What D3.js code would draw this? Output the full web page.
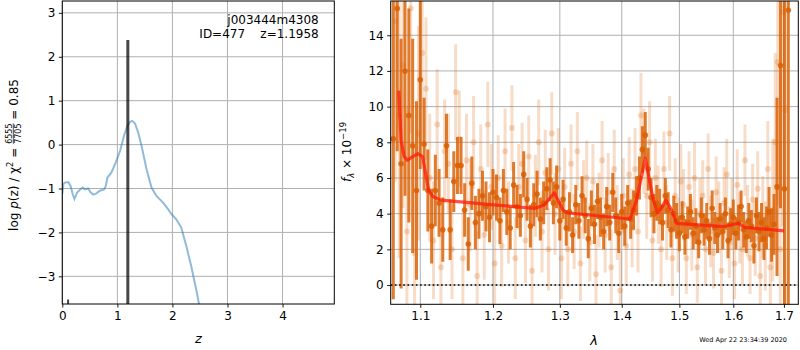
<!DOCTYPE html>
<html><head><meta charset="utf-8">
<script src="https://cdn.jsdelivr.net/npm/d3@7"></script>
<style>body{margin:0;background:#fff}svg{display:block}text{font-family:"DejaVu Sans",sans-serif;fill:#000}</style>
</head><body><svg id="c" width="800" height="350"></svg>
<script>
// ---------- left panel data ----------
const zGrid = [0,0.02,0.04,0.08,0.11,0.15,0.19,0.22,0.27,0.32,0.37,0.41,0.47,0.51,0.56,0.62,0.68,0.76,0.79,0.82,0.89,0.97,1.05,1.12,1.18,1.23,1.27,1.32,1.38,1.44,1.53,1.62,1.71,1.83,1.92,1.98,2.07,2.16,2.25,2.34,2.43,2.48,2.56];
const logPz = [-1.12,-0.9,-0.87,-0.86,-0.86,-0.94,-1.13,-1.24,-1.09,-1.03,-0.98,-1.02,-1.0,-1.08,-1.14,-1.11,-1.05,-1.02,-0.94,-0.75,-0.64,-0.41,-0.14,0.20,0.42,0.52,0.54,0.48,0.27,-0.03,-0.56,-0.98,-1.17,-1.32,-1.47,-1.58,-1.70,-1.89,-2.30,-2.76,-3.29,-3.61,-4.2];
const pzBarZ = [1.19, 0.105];
const pzBarTop = [2.38, -3.53];
const zTicks = [0,1,2,3,4];
const logTicks = [-3,-2,-1,0,1,2,3];
const objName = "j003444m4308";
const objInfo = "ID=477    z=1.1958";

// ---------- right panel data ----------
const lamTicks = [1.1,1.2,1.3,1.4,1.5,1.6,1.7];
const fluxTicks = [0,2,4,6,8,10,12,14];
const lamDark = [1.065,1.070,1.075,1.080,1.085,1.090,1.095,1.100,
 1.105,1.110,1.115,1.120,1.125,1.130,
 1.135,1.140,1.145,1.150,1.155,1.160,1.165,1.170,1.175,1.180,1.185,1.190,1.195,1.200,
 1.205,1.210,1.215,1.220,1.225,1.230,1.235,1.240,1.245,1.250,1.255,1.260,1.265,1.270,1.275,1.280,
 1.285,1.290,1.295,1.300,
 1.305,1.310,1.315,1.320,1.325,1.330,1.335,1.340,1.345,1.350,1.355,1.360,1.365,1.370,1.375,1.380,1.385,1.390,1.395,1.400,1.405,1.410,1.415,
 1.420,1.425,1.430,1.435,1.440,1.445,1.450,1.455,1.460,
 1.465,1.470,1.475,1.480,1.485,1.490,1.495,1.500,
 1.505,1.510,1.515,1.520,1.525,1.530,1.535,1.540,1.545,1.550,1.555,1.560,1.565,1.570,1.575,1.580,1.585,1.590,1.595,1.600,1.605,1.610,1.615,1.620,1.625,1.630,1.635,1.640,1.645,1.650,1.655,1.660,1.665,1.670,1.675,1.680,
 1.686,1.693,1.701,1.709];
const fluxDark = [8.2,15.5,6.8,12.0,9.5,7.8,5.3,11.5,
 7.9,5.3,3.3,5.3,4.6,3.1,
 7.8,3.1,5.8,6.7,6.7,4.2,2.3,5.7,3.5,4.0,5.0,4.4,3.8,5.2,
 4.9,3.6,5.3,4.1,3.2,5.6,4.4,3.9,6.2,4.8,3.3,4.5,5.1,3.7,4.6,5.4,
 5.9,4.6,5.5,3.6,
 4.8,3.2,4.1,2.8,4.5,3.6,5.0,3.9,2.6,4.3,3.4,4.7,3.8,3.0,4.4,3.5,5.2,3.9,2.9,4.1,3.3,4.6,3.7,
 4.2,5.0,6.0,7.6,8.4,6.5,4.9,4.0,4.6,
 4.4,3.5,5.0,4.2,3.1,4.0,3.6,2.9,
 3.8,2.7,3.5,4.1,2.9,3.3,2.4,3.9,3.1,3.6,2.6,4.3,3.2,2.8,3.7,3.0,4.0,2.5,3.4,3.8,2.9,3.5,4.4,3.1,2.7,3.6,3.3,2.2,3.9,3.0,3.5,2.6,3.2,4.1,2.8,3.4,
 5.5,12.3,5.4,15.4];
const errDark = [9,8,7,7,6,6,5,5,
 2.6,2.3,2.1,2.0,1.9,1.8,
 1.8,1.7,1.7,1.6,1.6,1.5,1.5,1.5,1.5,1.4,1.4,1.4,1.4,1.3,
 1.3,1.3,1.2,1.3,1.2,1.3,1.2,1.2,1.3,1.2,1.2,1.2,1.3,1.2,1.2,1.2,
 1.2,1.2,1.2,1.1,
 1.1,1.0,1.1,1.0,1.1,1.0,1.1,1.0,1.1,1.0,1.1,1.0,1.1,1.0,1.1,1.0,1.1,1.0,1.1,1.0,1.1,1.0,1.1,
 1.1,1.1,1.2,1.3,1.3,1.2,1.1,1.1,1.0,
 1.0,1.0,1.0,1.0,1.0,1.0,1.0,1.0,
 0.9,1.0,0.9,1.0,0.9,1.0,0.9,1.0,0.9,1.0,0.9,1.0,0.9,1.0,0.9,1.0,0.9,1.0,0.9,1.0,0.9,1.0,0.9,1.0,0.9,1.0,0.9,1.0,1.0,1.1,1.1,1.2,1.2,1.4,1.5,1.7,
 5,8,12,18];
const lamLight = [1.0675,1.0725,1.0775,1.0825,1.0875,1.0925,1.0975,1.1025,
 1.1075,1.1125,1.1175,1.1225,1.1275,1.1325,
 1.1375,1.1425,1.1475,1.1525,1.1575,1.1625,1.1675,1.1725,1.1775,1.1825,1.1875,1.1925,1.1975,1.2025,
 1.2075,1.2125,1.2175,1.2225,1.2275,1.2325,1.2375,1.2425,1.2475,1.2525,1.2575,1.2625,1.2675,1.2725,1.2775,1.2825,
 1.2875,1.2925,1.2975,1.3025,
 1.3075,1.3125,1.3175,1.3225,1.3275,1.3325,1.3375,1.3425,1.3475,1.3525,1.3575,1.3625,1.3675,1.3725,1.3775,1.3825,1.3875,1.3925,1.3975,1.4025,1.4075,1.4125,1.4175,
 1.4225,1.4275,1.4325,1.4375,1.4425,1.4475,1.4525,1.4575,1.4625,
 1.4675,1.4725,1.4775,1.4825,1.4875,1.4925,1.4975,1.5025,
 1.5075,1.5125,1.5175,1.5225,1.5275,1.5325,1.5375,1.5425,1.5475,1.5525,1.5575,1.5625,1.5675,1.5725,1.5775,1.5825,1.5875,1.5925,1.5975,1.6025,1.6075,1.6125,1.6175,1.6225,1.6275,1.6325,1.6375,1.6425,1.6475,1.6525,1.6575,1.6625,1.6675,1.6725,1.6775,1.6825,
 1.6875,1.6925,1.6975,1.7025];
const fluxLight = [14.8,9.5,12.3,3.0,15.5,1.8,8.5,13.0,
 11.0,6.0,2.5,9.0,1.0,7.5,
 6.8,2.0,10.8,8.2,1.5,7.0,4.5,8.0,0.5,6.5,2.8,9.0,5.5,1.2,
 6.0,2.2,7.5,3.5,8.8,1.5,5.5,6.8,2.5,7.2,0.8,5.0,8.0,3.0,6.3,2.0,
 8.5,4.0,6.5,1.5,
 5.5,2.0,6.8,3.0,7.5,1.2,4.8,6.0,2.4,5.8,0.6,4.2,7.0,2.8,5.2,1.0,6.5,3.5,-0.3,5.0,2.2,6.2,3.2,
 6.5,3.0,9.5,7.5,5.0,8.0,2.5,6.0,4.5,
 2.0,6.5,3.5,8.5,1.5,5.0,2.8,5.8,
 4.5,1.5,5.5,2.8,6.0,1.0,4.0,5.0,2.0,6.5,3.0,1.8,5.2,3.8,0.8,4.6,6.2,2.4,4.0,1.2,5.6,3.2,2.0,7.0,3.6,1.5,4.8,2.6,5.4,0.5,3.8,2.2,6.5,1.0,4.2,8.0,
 12.5,2.0,15.3,9.8];
const errLight = [9,8,8,7,7,6,6,5,
 4,3.6,3.3,3.1,3,2.9,
 2.8,2.8,2.7,2.7,2.7,2.6,2.6,2.6,2.5,2.5,2.5,2.4,2.4,2.4,
 2.4,2.3,2.4,2.3,2.4,2.3,2.4,2.3,2.4,2.3,2.4,2.3,2.4,2.3,2.4,2.3,
 2.3,2.3,2.3,2.3,
 2.2,2.1,2.2,2.1,2.2,2.1,2.2,2.1,2.2,2.1,2.2,2.1,2.2,2.1,2.2,2.1,2.2,2.1,2.2,2.1,2.2,2.1,2.2,
 2.3,2.3,2.4,2.4,2.4,2.3,2.3,2.2,2.2,
 2.1,2.1,2.1,2.1,2.1,2.1,2.1,2.1,
 2.0,2.0,2.0,2.0,2.0,2.0,2.0,2.0,2.0,2.0,2.0,2.0,2.0,2.0,2.0,2.0,2.0,2.0,2.0,2.0,2.0,2.0,2.0,2.0,2.0,2.0,2.0,2.1,2.1,2.2,2.3,2.5,2.7,3.0,4.0,5.0,
 8,10,12,14];
const modelLam = [1.072,1.075,1.079,1.083,1.090,1.097,1.103,1.107,1.111,1.117,1.128,1.205,1.262,1.276,1.2915,1.305,1.311,1.414,1.425,1.44,1.454,1.461,1.468,1.476,1.486,1.495,1.581,1.61,1.622,1.70];
const modelFlux = [10.9,8.1,7.2,7.0,7.2,7.36,7.2,6.26,5.3,4.95,4.76,4.48,4.3,4.48,5.17,4.2,4.05,3.70,4.76,7.1,4.76,4.05,4.3,4.76,4.2,3.46,3.27,3.46,3.23,3.04];
const stamp = "Wed Apr 22 23:34:39 2020";

// ---------- drawing ----------
const svg = d3.select("#c");
const GRID = "#b0b0b0", FS = 12;

const xL = d3.scaleLinear().domain([0, 4.94]).range([62.3, 334.3]);
const yL = d3.scaleLinear().domain([-3.63, 3.27]).range([304, 1]);
const xR = d3.scaleLog().domain([1.0617, 1.7295]).range([390.7, 798.3]);
const yR = d3.scaleLinear().domain([-1.08, 15.92]).range([304.3, 1]);

const defs = svg.append("defs");
defs.append("clipPath").attr("id","clipL").append("rect")
  .attr("x",xL.range()[0]).attr("y",yL.range()[1]).attr("width",xL.range()[1]-xL.range()[0]).attr("height",yL.range()[0]-yL.range()[1]);
defs.append("clipPath").attr("id","clipR").append("rect")
  .attr("x",xR.range()[0]).attr("y",yR.range()[1]).attr("width",xR.range()[1]-xR.range()[0]).attr("height",yR.range()[0]-yR.range()[1]);

function panelGrid(x, y, xt, yt) {
  const g = svg.append("g");
  g.selectAll(".gx").data(xt).join("line").attr("x1",d=>x(d)).attr("x2",d=>x(d))
    .attr("y1",y.range()[0]).attr("y2",y.range()[1]).attr("stroke",GRID).attr("stroke-width",1);
  g.selectAll(".gy").data(yt).join("line").attr("y1",d=>y(d)).attr("y2",d=>y(d))
    .attr("x1",x.range()[0]).attr("x2",x.range()[1]).attr("stroke",GRID).attr("stroke-width",1);
}
function panelAxes(x, y, xt, yt, xfmt, yfmt) {
  const ax = svg.append("g").attr("transform",`translate(0,${y.range()[0]})`)
    .call(d3.axisBottom(x).tickValues(xt).tickFormat(xfmt).tickSize(3.5).tickPadding(3.5).tickSizeOuter(0));
  const ay = svg.append("g").attr("transform",`translate(${x.range()[0]},0)`)
    .call(d3.axisLeft(y).tickValues(yt).tickFormat(yfmt).tickSize(3.5).tickPadding(3.5).tickSizeOuter(0));
  [ax, ay].forEach(a => {
    a.select(".domain").remove();
    a.selectAll("text").attr("font-size",FS).attr("font-family","DejaVu Sans").attr("fill","#000");
    a.selectAll("line").attr("stroke","#000").attr("stroke-width",0.9);
  });
  svg.append("rect").attr("x",x.range()[0]).attr("y",y.range()[1])
    .attr("width",x.range()[1]-x.range()[0]).attr("height",y.range()[0]-y.range()[1])
    .attr("fill","none").attr("stroke","#000").attr("stroke-width",1);
}

// ---- Left panel ----
panelGrid(xL, yL, zTicks, logTicks);
const gL = svg.append("g").attr("clip-path","url(#clipL)");
gL.append("path").datum(zGrid.map((z,i)=>[z,logPz[i]]))
  .attr("d", d3.line().x(d=>xL(d[0])).y(d=>yL(d[1])))
  .attr("fill","none").attr("stroke","#1f77b4").attr("stroke-opacity",0.5).attr("stroke-width",2);
gL.selectAll(".pzbar").data(pzBarZ.map((z,i)=>[z,pzBarTop[i]])).join("line")
  .attr("x1",d=>xL(d[0])).attr("x2",d=>xL(d[0]))
  .attr("y1",yL.range()[0]).attr("y2",d=>yL(d[1]))
  .attr("stroke","#000").attr("stroke-opacity",0.72).attr("stroke-width",(d,i)=>i===0?3:2);
panelAxes(xL, yL, zTicks, logTicks, d3.format("d"), d3.format("d"));
svg.append("text").attr("x",318.7).attr("y",24).attr("text-anchor","end").attr("font-size",FS).text(objName);
svg.append("text").attr("x",318.7).attr("y",38).attr("text-anchor","end").attr("font-size",FS)
  .style("white-space","pre").text(objInfo);
svg.append("text").attr("x",xL(2.47)).attr("y",343).attr("text-anchor","middle").attr("font-size",13)
  .attr("font-style","italic").text("z");

{
  const lab = svg.append("g");
  const inner = lab.append("g");
  const t1 = inner.append("text").attr("font-size",FS).style("white-space","pre");
  t1.append("tspan").text("log ");
  t1.append("tspan").attr("font-style","italic").text("p");
  t1.append("tspan").text("(z) / χ");
  t1.append("tspan").attr("font-size",8.5).attr("dy",-5).text("2");
  t1.append("tspan").attr("dy",5).text(" = ");
  const w1 = t1.node().getComputedTextLength();
  const num = inner.append("text").attr("font-size",8).attr("x",w1).attr("y",-6).text("6555");
  const den = inner.append("text").attr("font-size",8).attr("x",w1).attr("y",3.2).text("7705");
  const fw = Math.max(num.node().getComputedTextLength(), den.node().getComputedTextLength());
  inner.append("line").attr("x1",w1).attr("x2",w1+fw).attr("y1",-4.2).attr("y2",-4.2).attr("stroke","#000").attr("stroke-width",0.7);
  const t2 = inner.append("text").attr("font-size",FS).attr("x",w1+fw).style("white-space","pre").text(" = 0.85");
  const total = w1 + fw + t2.node().getComputedTextLength();
  lab.attr("transform",`translate(17.5,155) rotate(-90)`);
  inner.attr("transform",`translate(${-total/2},0)`);
}

// ---- Right panel ----
panelGrid(xR, yR, lamTicks, fluxTicks);
const gR = svg.append("g").attr("clip-path","url(#clipR)");
const COL = "#d95f02";
const light = lamLight.map((l,i)=>({l, f:fluxLight[i], e:errLight[i]}));
const dark = lamDark.map((l,i)=>({l, f:fluxDark[i], e:errDark[i]}));
gR.selectAll(".lbar").data(light).join("line")
  .attr("x1",d=>xR(d.l)).attr("x2",d=>xR(d.l)).attr("y1",d=>yR(d.f-d.e)).attr("y2",d=>yR(d.f+d.e))
  .attr("stroke",COL).attr("stroke-opacity",0.22).attr("stroke-width",3);
gR.selectAll(".lpt").data(light).join("circle")
  .attr("cx",d=>xR(d.l)).attr("cy",d=>yR(d.f)).attr("r",3)
  .attr("fill",COL).attr("fill-opacity",0.22);
gR.selectAll(".dbar").data(dark).join("line")
  .attr("x1",d=>xR(d.l)).attr("x2",d=>xR(d.l)).attr("y1",d=>yR(d.f-d.e)).attr("y2",d=>yR(d.f+d.e))
  .attr("stroke",COL).attr("stroke-opacity",0.82).attr("stroke-width",3);
gR.selectAll(".dpt").data(dark).join("circle")
  .attr("cx",d=>xR(d.l)).attr("cy",d=>yR(d.f)).attr("r",2.8)
  .attr("fill",COL).attr("fill-opacity",0.85);
gR.append("path").datum(modelLam.map((l,i)=>[l,modelFlux[i]]))
  .attr("d", d3.line().x(d=>xR(d[0])).y(d=>yR(d[1])))
  .attr("fill","none").attr("stroke","#ff1a0a").attr("stroke-opacity",0.75).attr("stroke-width",3.2)
  .attr("stroke-linejoin","round");
gR.append("line").attr("x1",xR.range()[0]).attr("x2",xR.range()[1]).attr("y1",yR(0)).attr("y2",yR(0))
  .attr("stroke","#000").attr("stroke-width",1.6).attr("stroke-dasharray","1.6,2.6");
panelAxes(xR, yR, lamTicks, fluxTicks, d3.format(".1f"), d3.format("d"));
svg.append("text").attr("x",594).attr("y",345).attr("text-anchor","middle").attr("font-size",13)
  .attr("font-style","italic").text("λ");
{
  const lab = svg.append("g");
  const t = lab.append("text").attr("font-size",FS).style("white-space","pre");
  t.append("tspan").attr("font-style","italic").text("f");
  t.append("tspan").attr("font-style","italic").attr("font-size",8.5).attr("dy",3).text("λ");
  t.append("tspan").attr("dy",-3).text(" × 10");
  t.append("tspan").attr("font-size",8.5).attr("dy",-5).text("−19");
  const w = t.node().getComputedTextLength();
  lab.attr("transform",`translate(350.5,152) rotate(-90)`);
  t.attr("x",-w/2);
}
svg.append("text").attr("x",787).attr("y",342).attr("text-anchor","end").attr("font-size",6.5).text(stamp);
</script></body></html>
